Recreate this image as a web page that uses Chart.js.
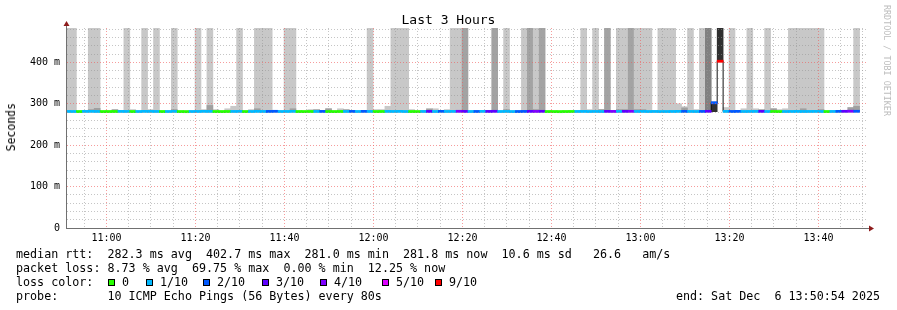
<!DOCTYPE html>
<html>
<head>
<meta charset="utf-8">
<script src="https://cdn.jsdelivr.net/npm/chart.js@4.4.1/dist/chart.umd.min.js"></script>
<style>
  body { margin: 0; background: #fff; }
  #wrap { position: relative; width: 897px; height: 310px; font-family: 'DejaVu Sans Mono', monospace; color: #000; }
  canvas { position: absolute; left: 0; top: 0; }
  .t { position: absolute; white-space: pre; font-size: 11.7px; line-height: 14px; }
  .box { position: absolute; top: 279px; width: 5px; height: 5px; border: 1px solid #000; }
</style>
</head>
<body>
<div id="wrap">
  <canvas id="c" width="897" height="310"></canvas>
  <div class="t" style="left:0;top:13px;width:897px;text-align:center;font-size:13px;line-height:13px">Last 3 Hours</div>
  <div class="t" style="left:4px;top:103px;font-size:11.5px;writing-mode:vertical-rl;transform:rotate(180deg)">Seconds</div>
  <div class="t" style="left:882px;top:5px;font-size:8.4px;line-height:10px;color:#bdbdbd;writing-mode:vertical-rl">RRDTOOL / TOBI OETIKER</div>
  <div class="t" style="left:16px;top:246.5px">median rtt:  282.3 ms avg  402.7 ms max  281.0 ms min  281.8 ms now  10.6 ms sd   26.6   am/s</div>
  <div class="t" style="left:16px;top:260.8px">packet loss: 8.73 % avg  69.75 % max  0.00 % min  12.25 % now</div>
  <div class="t" style="left:16px;top:275.2px">loss color:</div>
  <div id="lossLegend"></div>
  <div class="t" style="left:16px;top:289.2px">probe:       10 ICMP Echo Pings (56 Bytes) every 80s</div>
  <div class="t" style="right:17px;top:289.2px">end: Sat Dec  6 13:50:54 2025</div>
</div>
<script>
// time range of the graph and the 80 s probe step
const graphStart = '10:50:54';
const graphEnd = '13:50:54';
const firstSlot = '10:50:34';
const stepSec = 80;

const timeLabels = ['11:00', '11:20', '11:40', '12:00', '12:20', '12:40', '13:00', '13:20', '13:40'];
const rttTickLabels = ['0', '100 m', '200 m', '300 m', '400 m'];

// median rtt per step, ms
const medianRtt = [
  281.4, 281.3, 281.2, 281.5, 281.6, 281.4, 281.1, 281.2, 281.3, 281.5,
  281.4, 281.2, 281.3, 281.6, 281.5, 281.4, 281.2, 281.3, 281.5, 281.1,
  281.0, 281.3, 281.4, 281.6, 281.5, 281.2, 281.1, 281.3, 281.4, 281.5,
  281.2, 281.3, 281.6, 281.4, 281.5, 281.7, 281.3, 281.4, 281.6, 281.2,
  281.1, 281.3, 281.4, 281.5, 281.2, 281.1, 281.3, 281.4, 281.5, 281.3,
  281.6, 281.4, 281.2, 281.3, 281.5, 281.4, 281.6, 281.3, 281.2, 281.1,
  281.4, 281.5, 281.3, 281.6, 281.4, 281.5, 281.7, 281.5, 281.3, 281.4,
  281.6, 281.5, 281.7, 281.3, 281.4, 281.2, 281.3, 281.5, 281.6, 281.5,
  281.7, 281.2, 281.1, 281.0, 281.2, 281.3, 281.4, 281.5, 281.3, 281.4,
  281.3, 281.6, 281.5, 281.4, 281.6, 281.7, 281.4, 281.5, 281.3, 281.4,
  281.2, 281.3, 281.4, 281.6, 281.5, 281.4, 281.3, 281.5, 281.7, 302.4,
  402.7, 281.5, 281.4, 281.6, 281.3, 281.4, 281.5, 281.6, 281.3, 281.2,
  281.1, 281.3, 281.4, 281.5, 281.3, 281.4, 281.5, 281.3, 281.2, 281.4,
  281.6, 281.7, 281.9, 281.8
];

// lost pings out of 10 per step
const lossCount = [
  1, 1, 0, 1, 1, 1, 0, 0, 0, 1,
  1, 0, 1, 1, 1, 1, 0, 1, 1, 0,
  0, 1, 1, 1, 1, 0, 0, 0, 1, 1,
  0, 1, 1, 1, 2, 2, 1, 1, 1, 0,
  0, 0, 1, 2, 0, 0, 0, 1, 2, 1,
  2, 1, 0, 0, 1, 1, 1, 1, 0, 0,
  1, 3, 1, 2, 1, 1, 4, 3, 1, 2,
  1, 3, 3, 1, 1, 1, 2, 2, 3, 4,
  3, 0, 0, 0, 0, 0, 1, 1, 1, 1,
  1, 3, 4, 1, 3, 4, 1, 1, 1, 1,
  1, 1, 1, 1, 2, 1, 1, 2, 3, 2,
  9, 1, 2, 2, 1, 1, 1, 3, 1, 0,
  0, 1, 1, 1, 1, 1, 1, 1, 0, 1,
  2, 3, 4, 2
];

// slowest ping per step, ms
const smokeMax = [
  490, 490, 283, 283, 490, 490, 283, 283, 283, 283,
  490, 286, 283, 490, 286, 490, 283, 283, 490, 283,
  283, 283, 490, 286, 490, 286, 283, 288, 294, 490,
  283, 286, 490, 490, 490, 283, 283, 490, 490, 283,
  283, 286, 283, 283, 288, 283, 288, 283, 283, 283,
  283, 490, 286, 286, 294, 490, 490, 490, 286, 283,
  283, 283, 288, 283, 286, 490, 490, 490, 283, 283,
  283, 283, 490, 283, 490, 283, 283, 490, 490, 490,
  490, 283, 283, 283, 283, 283, 283, 490, 286, 490,
  286, 490, 283, 490, 490, 490, 490, 490, 490, 283,
  490, 490, 490, 300, 293, 490, 286, 490, 490, 304,
  490, 291, 490, 283, 288, 490, 288, 283, 490, 288,
  286, 288, 490, 490, 490, 490, 490, 490, 283, 283,
  283, 283, 283, 490
];

// how many pings sit in the top band (shade of the smoke)
const smokeLevel = [
  1, 1, 1, 1, 1, 1, 1, 1, 1, 1,
  1, 1, 1, 1, 1, 1, 1, 1, 1, 1,
  1, 1, 1, 1, 1, 1, 1, 1, 1, 1,
  1, 1, 1, 1, 1, 1, 1, 1, 1, 1,
  1, 1, 1, 1, 1, 1, 1, 1, 1, 1,
  1, 1, 1, 1, 1, 1, 1, 1, 1, 1,
  1, 1, 1, 1, 1, 1, 1, 2, 1, 1,
  1, 1, 2, 1, 1, 1, 1, 1, 2, 1,
  2, 1, 1, 1, 1, 1, 1, 1, 1, 1,
  1, 2, 1, 1, 1, 2, 1, 1, 1, 1,
  1, 1, 1, 1, 1, 1, 1, 1, 3, 4,
  4, 1, 1, 1, 1, 1, 1, 1, 1, 1,
  1, 1, 1, 1, 1, 1, 1, 1, 1, 1,
  1, 1, 1, 1
];

// inner (darker) ping band tops: [step, ms]
const innerTop = [
  [4, 286], [5, 289], [8, 286], [18, 286], [24, 296], [32, 288], [38, 288],
  [42, 286], [44, 288], [47, 286], [61, 288], [74, 286], [78, 286], [79, 286],
  [90, 286], [93, 286], [94, 286], [96, 286], [97, 286], [104, 290], [117, 286],
  [119, 288], [124, 288], [127, 286], [132, 291], [133, 294]
];

const rttMin = 281.0;

const lossLegend = ['0', '1/10', '2/10', '3/10', '4/10', '5/10', '9/10'];
const lossLegendColors = ['#26ff00', '#00b8ff', '#0059ff', '#5e00ff', '#7e00ff', '#dd00ff', '#ff0000'];
const lossColor = n => lossLegendColors[n >= 9 ? 6 : Math.min(n, 5)];
const shadeColors = ['#c8c8c8', '#a3a3a3', '#808080', '#303030'];

// legend boxes
const boxX = [108, 146, 203, 262, 320, 382, 435];
const legendEl = document.getElementById('lossLegend');
lossLegend.forEach((txt, i) => {
  const b = document.createElement('div');
  b.className = 'box';
  b.style.left = boxX[i] + 'px';
  b.style.background = lossLegendColors[i];
  legendEl.appendChild(b);
  const t = document.createElement('div');
  t.className = 't';
  t.style.left = (boxX[i] + 14) + 'px';
  t.style.top = '275.2px';
  t.textContent = txt;
  legendEl.appendChild(t);
});

const toSec = s => { const p = s.split(':').map(Number); return p[0] * 3600 + p[1] * 60 + (p[2] || 0); };
const fmt = v => String(Math.floor(v / 3600)).padStart(2, '0') + ':' + String(Math.floor(v % 3600 / 60)).padStart(2, '0');
const xMin = toSec(graphStart), xMax = toSec(graphEnd);
const slotX = i => toSec(firstSlot) + i * stepSec + stepSec / 2;

const smokeData = smokeMax.map((v, i) => ({ x: slotX(i), y: [lossCount[i] >= 9 ? medianRtt[i] : rttMin, v] }));
const innerData = innerTop.map(([i, v]) => ({ x: slotX(i), y: [rttMin, v] }));
const medianBars = medianRtt.map((v, i) => ({ x: slotX(i), y: [v - 2.6, v + 2.6] }));
const medianLine = medianRtt.map((v, i) => ({ x: slotX(i), y: v }));

const majorGrid = 'rgba(240,90,90,0.6)';
const minorGrid = 'rgba(150,150,150,0.55)';
const axisColor = '#707070';

const axisArrows = {
  id: 'axisArrows',
  afterDraw(chart) {
    const { ctx, chartArea: a } = chart;
    ctx.save();
    ctx.strokeStyle = axisColor;
    ctx.lineWidth = 1;
    ctx.beginPath();
    ctx.moveTo(a.left + 0.5, a.top);
    ctx.lineTo(a.left + 0.5, a.top - 3);
    ctx.moveTo(a.right, a.bottom + 0.5);
    ctx.lineTo(a.right + 3, a.bottom + 0.5);
    ctx.stroke();
    ctx.fillStyle = '#8e1c1c';
    ctx.beginPath();
    ctx.moveTo(a.left + 0.5, a.top - 7);
    ctx.lineTo(a.left - 2.5, a.top - 2);
    ctx.lineTo(a.left + 3.5, a.top - 2);
    ctx.closePath();
    ctx.fill();
    ctx.beginPath();
    ctx.moveTo(a.right + 7, a.bottom + 0.5);
    ctx.lineTo(a.right + 2, a.bottom - 2.5);
    ctx.lineTo(a.right + 2, a.bottom + 3.5);
    ctx.closePath();
    ctx.fill();
    ctx.restore();
  }
};

const barDefaults = { grouped: false, barPercentage: 1, categoryPercentage: 1, borderWidth: 0 };

new Chart(document.getElementById('c'), {
  type: 'bar',
  data: {
    datasets: [
      Object.assign({ label: 'smoke', data: smokeData, order: 4,
        backgroundColor: ctx => shadeColors[smokeLevel[ctx.dataIndex] - 1] }, barDefaults),
      Object.assign({ label: 'inner', data: innerData, order: 3, backgroundColor: '#a0a0a0' }, barDefaults),
      { type: 'line', label: 'median', data: medianLine, order: 2, stepped: 'middle',
        borderColor: '#111', borderWidth: 1, pointRadius: 0 },
      Object.assign({ label: 'loss', data: medianBars, order: 1,
        backgroundColor: ctx => lossColor(lossCount[ctx.dataIndex]) }, barDefaults)
    ]
  },
  options: {
    responsive: false,
    animation: false,
    devicePixelRatio: 1,
    layout: { padding: { top: 28, left: 0, right: 30, bottom: 62 } },
    plugins: { legend: { display: false }, tooltip: { enabled: false }, title: { display: false } },
    scales: {
      x: {
        type: 'linear',
        min: xMin,
        max: xMax,
        offset: false,
        afterBuildTicks: axis => {
          const ticks = [];
          for (let v = Math.ceil(xMin / 300) * 300; v < xMax; v += 300) ticks.push({ value: v });
          axis.ticks = ticks;
        },
        afterFit: axis => { axis.height = 20; },
        grid: {
          offset: false,
          drawTicks: false,
          z: 1,
          lineWidth: 1,
          color: ctx => (ctx.tick && ctx.tick.value % 1200 === 0) ? majorGrid : minorGrid
        },
        border: { display: true, color: axisColor, dash: [1, 2], z: 2 },
        ticks: {
          autoSkip: false,
          maxRotation: 0,
          padding: 4,
          color: '#000',
          font: { family: 'DejaVu Sans Mono', size: 10 },
          callback: v => (v % 1200 === 0 && timeLabels.includes(fmt(v))) ? fmt(v) : ''
        }
      },
      y: {
        type: 'linear',
        min: 0,
        max: 483,
        afterBuildTicks: axis => {
          const ticks = [];
          for (let v = 0; v <= 480; v += 20) ticks.push({ value: v });
          axis.ticks = ticks;
        },
        afterFit: axis => { axis.width = 66; },
        grid: {
          drawTicks: false,
          z: 1,
          lineWidth: 1,
          color: ctx => (ctx.tick && ctx.tick.value % 100 === 0) ? majorGrid : minorGrid
        },
        border: { display: true, color: axisColor, dash: [1, 2], z: 2 },
        ticks: {
          autoSkip: false,
          padding: 6,
          color: '#000',
          font: { family: 'DejaVu Sans Mono', size: 10 },
          callback: v => v % 100 === 0 ? rttTickLabels[v / 100] : ''
        }
      }
    }
  },
  plugins: [axisArrows]
});
</script>
</body>
</html>
